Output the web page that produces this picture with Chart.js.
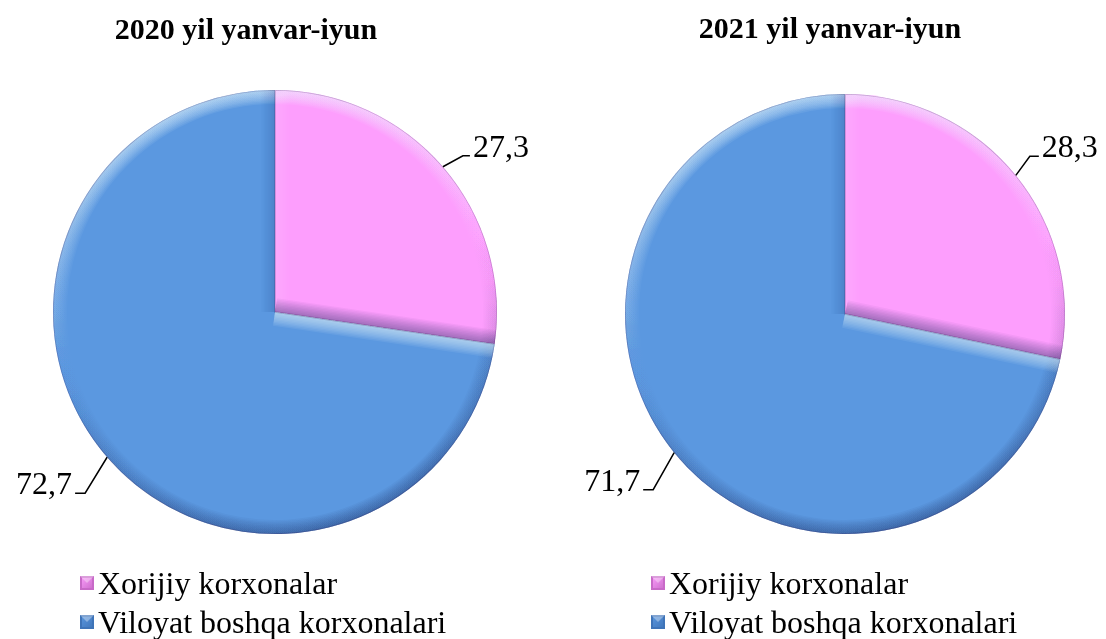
<!DOCTYPE html>
<html><head><meta charset="utf-8">
<script src="https://cdn.jsdelivr.net/npm/chart.js@4/dist/chart.umd.min.js"></script>
<style>
html,body{margin:0;padding:0;background:#fff;overflow:hidden}
#wrap{position:relative;width:1106px;height:639px;background:#fff}
.cell{position:absolute;top:0;width:553px;height:639px}
</style></head><body>
<div id="wrap">
  <div class="cell" style="left:0"><canvas id="c1" width="553" height="639"></canvas></div>
  <div class="cell" style="left:553px"><canvas id="c2" width="553" height="639"></canvas></div>
</div>
<script>
// ---- data ----
const categories = ['Xorijiy korxonalar', 'Viloyat boshqa korxonalari'];
const titles = ['2020 yil yanvar-iyun', '2021 yil yanvar-iyun'];
const values2020 = [27.3, 72.7];
const values2021 = [28.3, 71.7];
const sliceColors = ['#FD9EFD', '#5B98E0'];
const legendBoxColors = ['#C86AC8', '#3F74B8'];

// ---- layout / style ----
const SERIF = '"Liberation Serif", "Times New Roman", serif';
const W = 553, H = 639;
const fmt = v => v.toFixed(1).replace('.', ',');

function shadeColor(nx, ny, scale) {
  const lx = -0.25, ly = -1, ln = Math.hypot(lx, ly);
  const d = (nx * lx + ny * ly) / ln;
  return d >= 0 ? `rgba(235,250,255,${(0.5 * d * scale).toFixed(4)})` : `rgba(10,20,70,${(0.26 * -d * scale).toFixed(4)})`;
}

const bevelPlugin = {
  id: 'bevel',
  afterDatasetsDraw(chart, args, opts) {
    const ctx = chart.ctx;
    const b = opts.size || 14;
    const N = 10;
    chart.getDatasetMeta(0).data.forEach((arc) => {
      const p = arc.getProps(['x', 'y', 'startAngle', 'endAngle', 'outerRadius'], true);
      const {x, y, startAngle: s, endAngle: e, outerRadius: r} = p;
      const slicePath = () => { ctx.beginPath(); ctx.moveTo(x, y); ctx.arc(x, y, r, s, e); ctx.closePath(); };
      ctx.save();
      slicePath(); ctx.clip();
      // soft rim band: multiple passes of decreasing width
      const cg = ctx.createConicGradient(0, x, y);
      for (let k = 0; k <= 36; k++) {
        const a = k / 36 * Math.PI * 2;
        cg.addColorStop(k / 36, shadeColor(Math.cos(a), Math.sin(a), 1 / N * 1.6));
      }
      for (let k = N; k >= 1; k--) {
        const w = 2 * b * k / N;
        ctx.beginPath(); ctx.arc(x, y, r, s - 0.2, e + 0.2);
        ctx.lineWidth = w; ctx.strokeStyle = cg; ctx.stroke();
      }
      // soft radial edges
      const edges = [[s, s - Math.PI / 2], [e, e + Math.PI / 2]];
      edges.forEach(([a, na]) => {
        const col = shadeColor(Math.cos(na), Math.sin(na), 1 / N * 1.6);
        for (let k = N; k >= 1; k--) {
          const w = 2 * b * k / N;
          ctx.beginPath(); ctx.moveTo(x, y); ctx.lineTo(x + (r + 5) * Math.cos(a), y + (r + 5) * Math.sin(a));
          ctx.lineWidth = w; ctx.strokeStyle = col; ctx.lineCap = 'butt'; ctx.stroke();
        }
      });
      // thin darker outline
      slicePath(); ctx.lineWidth = 1.6; ctx.strokeStyle = 'rgba(60,30,90,0.25)'; ctx.stroke();
      ctx.restore();
    });
  }
};

const textPlugin = {
  id: 'annot',
  afterDraw(chart, args, o) {
    const ctx = chart.ctx;
    ctx.save();
    // title
    ctx.fillStyle = '#000';
    ctx.font = `bold 30px ${SERIF}`;
    ctx.textAlign = 'center'; ctx.textBaseline = 'alphabetic';
    ctx.fillText(o.title, o.titleX, o.titleY);
    // value labels with leader lines
    const ds = chart.data.datasets[0];
    ctx.font = `32px ${SERIF}`;
    chart.getDatasetMeta(0).data.forEach((arc, i) => {
      const p = arc.getProps(['x', 'y', 'startAngle', 'endAngle', 'outerRadius'], true);
      const m = (p.startAngle + p.endAngle) / 2;
      const rx = p.x + p.outerRadius * Math.cos(m), ry = p.y + p.outerRadius * Math.sin(m);
      const [dx, dy, hl] = o.leaders[i];
      const ex = rx + dx, ey = ry + dy;
      const dir = dx >= 0 ? 1 : -1;
      ctx.beginPath(); ctx.moveTo(rx, ry); ctx.lineTo(ex, ey); ctx.lineTo(ex + dir * hl, ey);
      ctx.lineWidth = 1.5; ctx.strokeStyle = '#000'; ctx.stroke();
      ctx.textAlign = dir > 0 ? 'left' : 'right';
      ctx.fillText(fmt(ds.data[i]), ex + dir * (hl + 3), ey + 1);
    });
    // legend
    ctx.font = `32px ${SERIF}`;
    ctx.textAlign = 'left';
    chart.data.labels.forEach((lab, i) => {
      const bx = o.legendX, by = o.legendY + i * o.legendRow;
      const sz = 14;
      const g = ctx.createLinearGradient(bx, by, bx + sz, by + sz);
      g.addColorStop(0, ds.backgroundColor[i]);
      g.addColorStop(1, legendBoxColors[i]);
      ctx.fillStyle = legendBoxColors[i];
      ctx.fillRect(bx, by, sz, sz);
      ctx.fillStyle = g;
      ctx.fillRect(bx + 2, by + 2, sz - 4, sz - 4);
      ctx.fillStyle = 'rgba(255,255,255,0.35)';
      ctx.beginPath(); ctx.moveTo(bx, by); ctx.lineTo(bx + sz, by); ctx.lineTo(bx + sz / 2, by + sz / 2); ctx.closePath(); ctx.fill();
      ctx.fillStyle = '#000';
      ctx.fillText(lab, bx + sz + 4, by + sz + 4);
    });
    ctx.restore();
  }
};

function makePie(id, values, title, geom, annot) {
  return new Chart(document.getElementById(id), {
    type: 'pie',
    data: {
      labels: categories,
      datasets: [{ data: values, backgroundColor: sliceColors, borderWidth: 0 }]
    },
    options: {
      responsive: false,
      animation: false,
      events: [],
      layout: { padding: { left: geom.cx - geom.r, right: W - geom.cx - geom.r, top: geom.cy - geom.r, bottom: H - geom.cy - geom.r } },
      plugins: {
        legend: { display: false },
        tooltip: { enabled: false },
        title: { display: false },
        bevel: { size: 14 },
        annot: Object.assign({ title }, annot)
      }
    },
    plugins: [bevelPlugin, textPlugin]
  });
}

makePie('c1', values2020, titles[0], { cx: 275, cy: 312, r: 222 },
  { titleX: 246, titleY: 39, leaders: [[20, -11, 7], [-22, 36, 10]], legendX: 80, legendY: 576, legendRow: 39 });
makePie('c2', values2021, titles[1], { cx: 292, cy: 314, r: 220 },
  { titleX: 277, titleY: 38, leaders: [[14, -19, 9], [-21, 37, 10]], legendX: 98, legendY: 576, legendRow: 39 });
</script>
</body></html>
